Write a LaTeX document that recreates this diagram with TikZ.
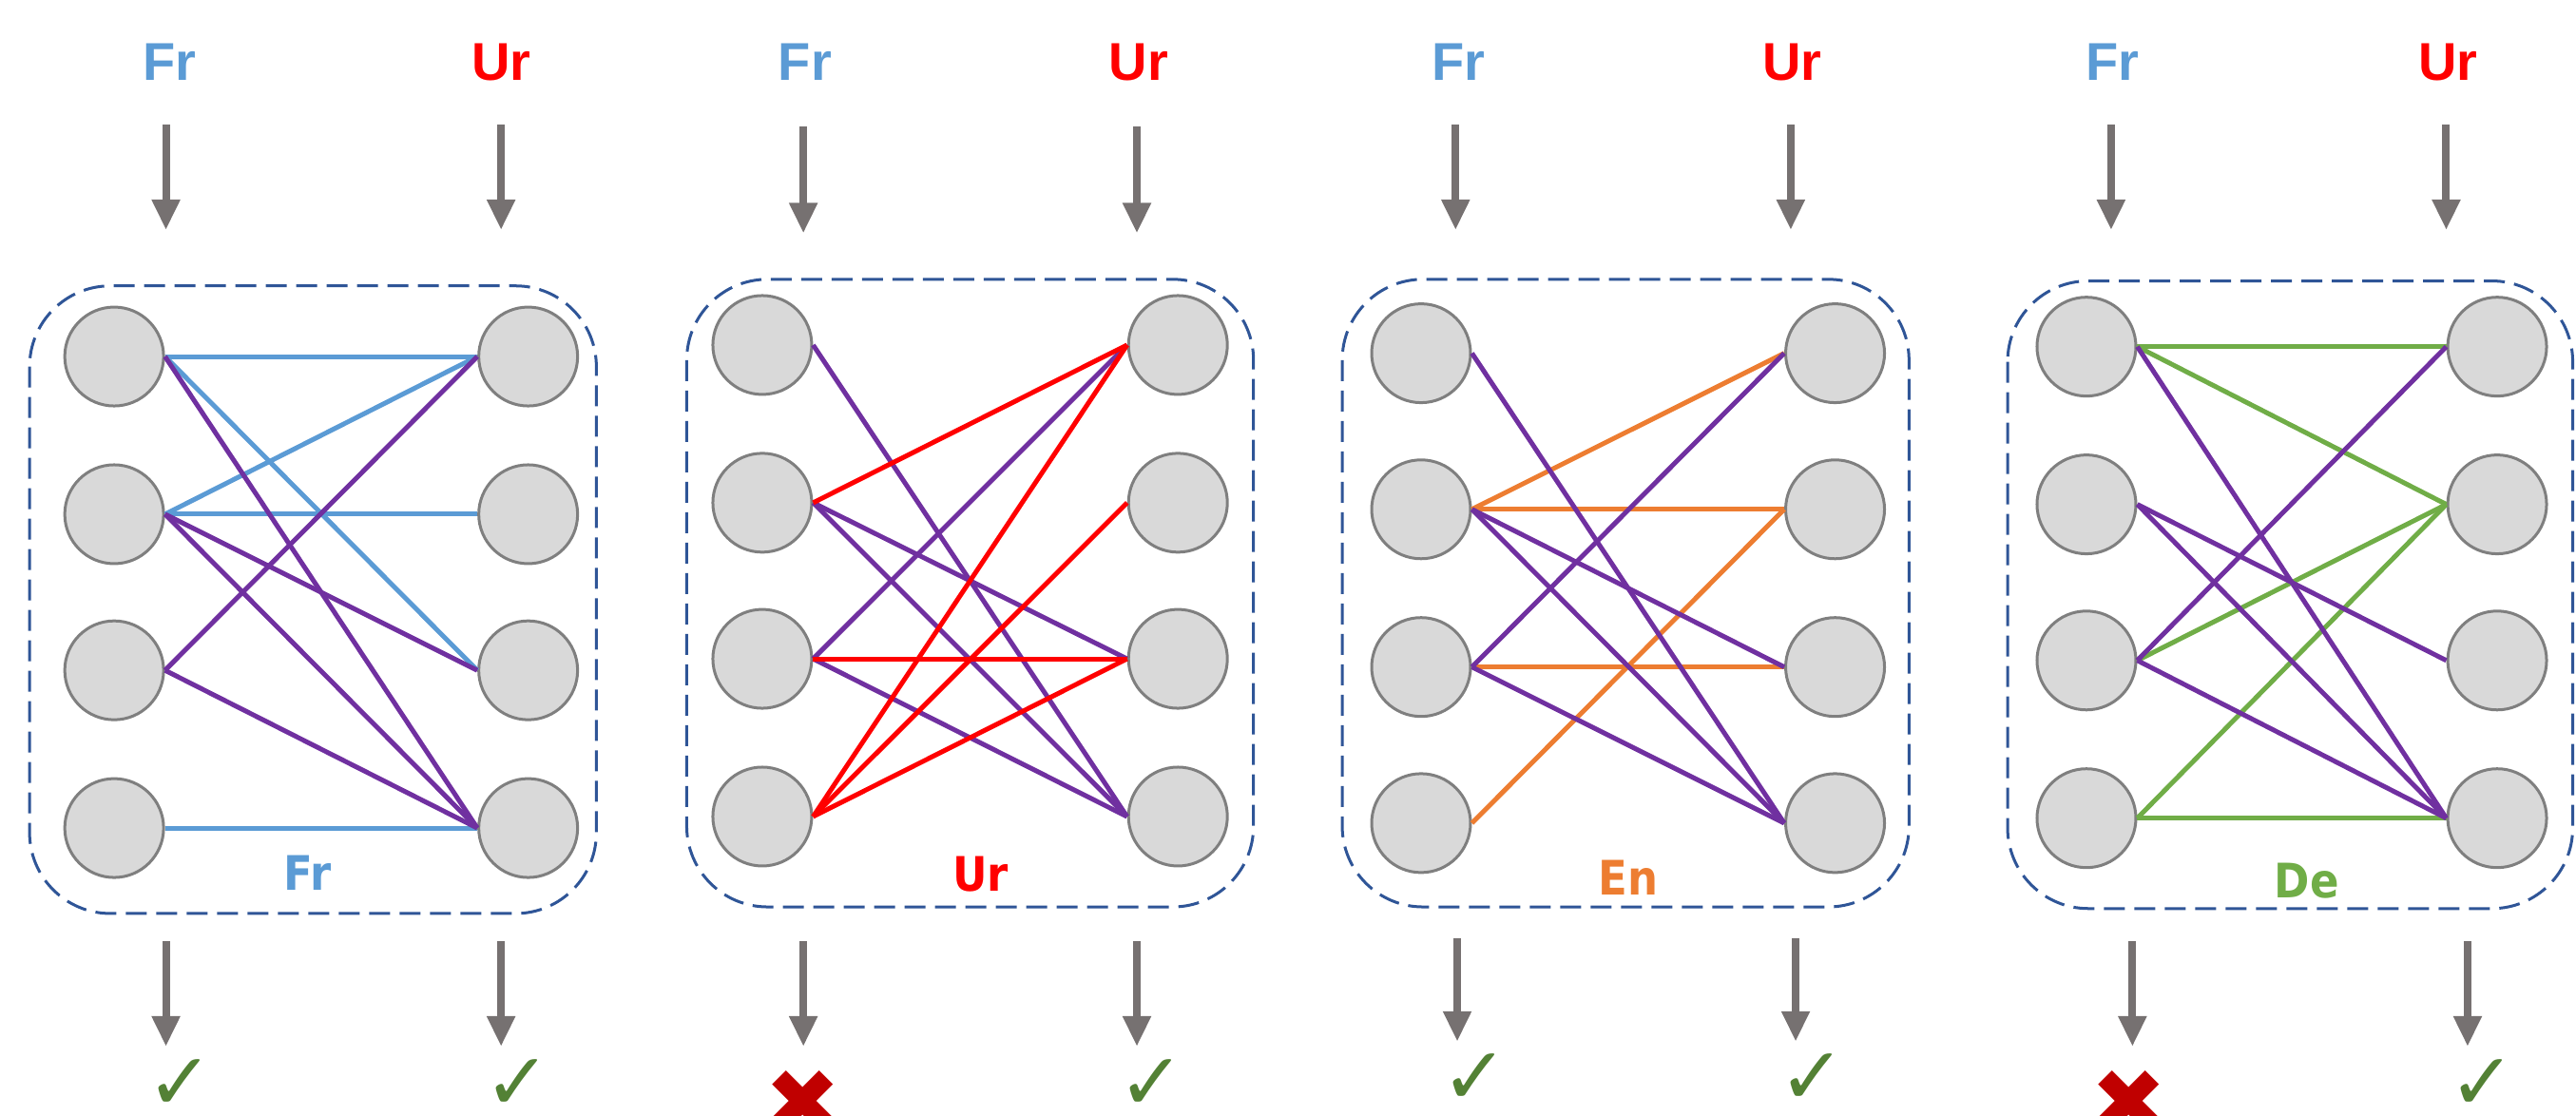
\documentclass[tikz,border=0pt]{standalone}
\usepackage{fontspec}
\setmainfont{DejaVu Sans}
\newfontfamily\topfont{Liberation Sans}
\newfontfamily\innerfont[FakeStretch=0.9]{DejaVu Sans}
\newfontfamily\symfont{DejaVu Sans}
\usetikzlibrary{arrows.meta}
\definecolor{frblue}{HTML}{5B9BD5}
\definecolor{urred}{HTML}{FF0000}
\definecolor{enorange}{HTML}{ED7D31}
\definecolor{degreen}{HTML}{70AD47}
\definecolor{purp}{HTML}{7030A0}
\definecolor{boxblue}{HTML}{2F5597}
\definecolor{nodefill}{HTML}{D9D9D9}
\definecolor{nodeline}{HTML}{7F7F7F}
\definecolor{arrowgray}{HTML}{767171}
\definecolor{okgreen}{HTML}{538135}
\definecolor{badred}{HTML}{C00000}
\tikzset{
  neuron/.style={circle, draw=nodeline, fill=nodefill, line width=3pt, minimum size=104pt, inner sep=0pt},
  edge/.style={line width=5pt},
  pedge/.style={line width=5pt, draw=purp},
  panelbox/.style={draw=boxblue, line width=3pt, dash pattern=on 22pt off 10pt, rounded corners=85pt},
  garrow/.style={draw=arrowgray, line width=8pt, -{Triangle[width=28pt,length=32pt]}},
  toplab/.style={font={\topfont\bfseries\fontsize{56}{64}\selectfont}, anchor=base, inner sep=0pt},
  innerlab/.style={font={\innerfont\bfseries\fontsize{50}{60}\selectfont}, anchor=base, inner sep=0pt},
  okmark/.style={text=okgreen, font={\symfont\fontsize{84}{90}\selectfont}, inner sep=0pt},
  badmark/.style={text=badred, font={\symfont\fontsize{96}{100}\selectfont}, inner sep=0pt}
}
\begin{document}
\begin{tikzpicture}[x=1.7283pt,y=-1.7283pt]
\useasboundingbox (0,0) rectangle (1568,679);
\clip (0,0) rectangle (1568,679);

% ---------- Panel 1 (Fr) ----------
\draw[panelbox] (18,174) rectangle (363,556);
\foreach \i/\y in {1/217,2/313,3/408,4/504} {
  \node[neuron] (aL\i) at (69.5,\y) {};
  \node[neuron] (aR\i) at (321.5,\y) {};
}
\foreach \s/\t in {1/1,1/3,2/1,2/2,4/4} \draw[edge,frblue] (aL\s.east) -- (aR\t.west);
\foreach \s/\t in {1/4,2/3,2/4,3/1,3/4} \draw[pedge] (aL\s.east) -- (aR\t.west);
\node[innerlab, text=frblue] (aLab) at (187,541.7) {Fr};
\node[toplab, text=frblue] (aFr) at (103,49) {Fr};
\node[toplab, text=urred] (aUr) at (305,49) {Ur};
\coordinate (aT1s) at (101,76);  \coordinate (aT1e) at (101,140);
\coordinate (aT2s) at (305,76);  \coordinate (aT2e) at (305,140);
\coordinate (aB1s) at (101,573); \coordinate (aB1e) at (101,637);
\coordinate (aB2s) at (305,573); \coordinate (aB2e) at (305,637);
\draw[garrow] (aT1s) -- (aT1e);
\draw[garrow] (aT2s) -- (aT2e);
\draw[garrow] (aB1s) -- (aB1e);
\draw[garrow] (aB2s) -- (aB2e);
\node[okmark] (aM1) at (110,660) {✓};
\node[okmark] (aM2) at (315,660) {✓};

% ---------- Panel 2 (Ur) ----------
\draw[panelbox] (418,170) rectangle (763,552);
\foreach \i/\y in {1/210,2/306,3/401,4/497} {
  \node[neuron] (bL\i) at (464,\y) {};
  \node[neuron] (bR\i) at (717,\y) {};
}
\foreach \s/\t in {1/4,2/3,2/4,3/1,3/4} \draw[pedge] (bL\s.east) -- (bR\t.west);
\foreach \s/\t in {2/1,3/3,4/1,4/2,4/3} \draw[edge,urred] (bL\s.east) -- (bR\t.west);
\node[innerlab, text=urred] (bLab) at (597,542.7) {Ur};
\node[toplab, text=frblue] (bFr) at (490,49) {Fr};
\node[toplab, text=urred] (bUr) at (693,49) {Ur};
\coordinate (bT1s) at (489,77);  \coordinate (bT1e) at (489,142);
\coordinate (bT2s) at (692,77);  \coordinate (bT2e) at (692,142);
\coordinate (bB1s) at (489,573); \coordinate (bB1e) at (489,637);
\coordinate (bB2s) at (692,573); \coordinate (bB2e) at (692,637);
\draw[garrow] (bT1s) -- (bT1e);
\draw[garrow] (bT2s) -- (bT2e);
\draw[garrow] (bB1s) -- (bB1e);
\draw[garrow] (bB2s) -- (bB2e);
\node[badmark] (bM1) at (489,671) {✖};
\node[okmark] (bM2) at (701,660) {✓};

% ---------- Panel 3 (En) ----------
\draw[panelbox] (817,170) rectangle (1162,552);
\foreach \i/\y in {1/215,2/310,3/406,4/501} {
  \node[neuron] (cL\i) at (865,\y) {};
  \node[neuron] (cR\i) at (1117,\y) {};
}
\foreach \s/\t in {2/1,2/2,3/3,4/2} \draw[edge,enorange] (cL\s.east) -- (cR\t.west);
\foreach \s/\t in {1/4,2/3,2/4,3/1,3/4} \draw[pedge] (cL\s.east) -- (cR\t.west);
\node[innerlab, text=enorange] (cLab) at (991,544.7) {En};
\node[toplab, text=frblue] (cFr) at (888,49) {Fr};
\node[toplab, text=urred] (cUr) at (1091,49) {Ur};
\coordinate (cT1s) at (886,76);   \coordinate (cT1e) at (886,140);
\coordinate (cB1s) at (887,571);  \coordinate (cB1e) at (887,634);
\coordinate (cT2s) at (1090,76);  \coordinate (cT2e) at (1090,140);
\coordinate (cB2s) at (1093,571); \coordinate (cB2e) at (1093,634);
\draw[garrow] (cT1s) -- (cT1e);
\draw[garrow] (cT2s) -- (cT2e);
\draw[garrow] (cB1s) -- (cB1e);
\draw[garrow] (cB2s) -- (cB2e);
\node[okmark] (cM1) at (898,657) {✓};
\node[okmark] (cM2) at (1103,657) {✓};

% ---------- Panel 4 (De) ----------
\draw[panelbox] (1222,171) rectangle (1566,553);
\foreach \i/\y in {1/211,2/307,3/402,4/498} {
  \node[neuron] (dL\i) at (1270,\y) {};
  \node[neuron] (dR\i) at (1520,\y) {};
}
\foreach \s/\t in {1/1,1/2,3/2,4/2,4/4} \draw[edge,degreen] (dL\s.east) -- (dR\t.west);
\foreach \s/\t in {1/4,2/3,2/4,3/1,3/4} \draw[pedge] (dL\s.east) -- (dR\t.west);
\node[innerlab, text=degreen] (dLab) at (1404,546.7) {De};
\node[toplab, text=frblue] (dFr) at (1286,49) {Fr};
\node[toplab, text=urred] (dUr) at (1490,49) {Ur};
\coordinate (dT1s) at (1285,76);  \coordinate (dT1e) at (1285,140);
\coordinate (dT2s) at (1489,76);  \coordinate (dT2e) at (1489,140);
\coordinate (dB1s) at (1298,573); \coordinate (dB1e) at (1298,637);
\coordinate (dB2s) at (1502,573); \coordinate (dB2e) at (1502,637);
\draw[garrow] (dT1s) -- (dT1e);
\draw[garrow] (dT2s) -- (dT2e);
\draw[garrow] (dB1s) -- (dB1e);
\draw[garrow] (dB2s) -- (dB2e);
\node[badmark] (dM1) at (1296,671) {✖};
\node[okmark] (dM2) at (1511,660) {✓};
\end{tikzpicture}
\end{document}
